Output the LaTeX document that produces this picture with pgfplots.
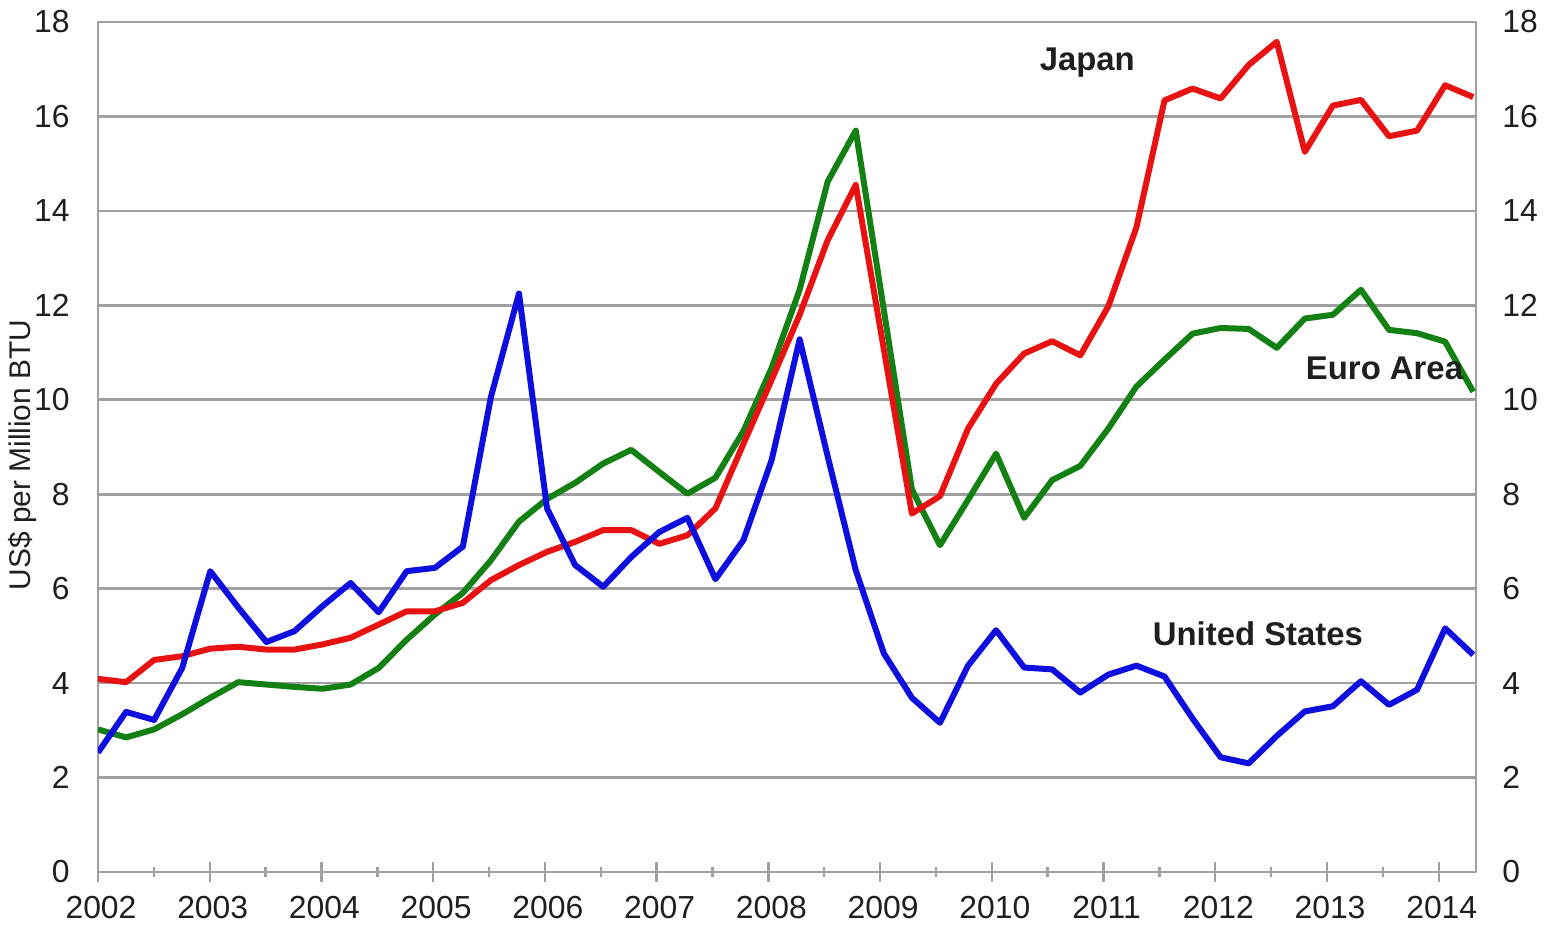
\documentclass[border=0pt]{standalone}
\usepackage{fontspec}
\setmainfont{Liberation Sans}
\usepackage{pgfplots}
\pgfplotsset{compat=1.18}
\definecolor{jpred}{RGB}{232,18,18}
\definecolor{eugreen}{RGB}{18,128,18}
\definecolor{usblue}{RGB}{14,14,222}
\definecolor{gridgray}{RGB}{160,160,160}

\pgfplotstableread{
i jp eu us
0 4.09 3.02 2.53
1 4.02 2.85 3.39
2 4.49 3.02 3.22
3 4.57 3.34 4.32
4 4.73 3.69 6.37
5 4.77 4.02 5.60
6 4.71 3.97 4.87
7 4.71 3.92 5.10
8 4.82 3.88 5.63
9 4.96 3.97 6.12
10 5.24 4.32 5.50
11 5.52 4.92 6.37
12 5.52 5.45 6.44
13 5.70 5.91 6.89
14 6.18 6.60 10.06
15 6.50 7.42 12.25
16 6.78 7.90 7.70
17 6.99 8.24 6.50
18 7.24 8.65 6.04
19 7.24 8.94 6.67
20 6.95 8.47 7.20
21 7.13 8.01 7.50
22 7.70 8.35 6.20
23 9.07 9.34 7.03
24 10.42 10.67 8.72
25 11.80 12.33 11.28
26 13.38 14.62 8.80
27 14.55 15.70 6.39
28 11.07 11.90 4.63
29 7.59 8.10 3.69
30 7.96 6.92 3.16
31 9.39 7.88 4.37
32 10.34 8.86 5.12
33 10.98 7.50 4.33
34 11.24 8.30 4.29
35 10.94 8.60 3.80
36 11.98 9.39 4.18
37 13.65 10.28 4.37
38 16.34 10.85 4.14
39 16.59 11.40 3.25
40 16.38 11.52 2.43
41 17.09 11.50 2.30
42 17.58 11.10 2.88
43 15.25 11.72 3.40
44 16.23 11.80 3.51
45 16.35 12.33 4.04
46 15.58 11.48 3.54
47 15.70 11.41 3.86
48 16.66 11.23 5.16
49 16.41 10.17 4.60
}\lngdata

\begin{document}
\begin{tikzpicture}
\pgfplotsset{
  common/.style={
    scale only axis, width=689bp, height=425bp,
    at={(0,0)}, anchor=south west,
    xmin=0, xmax=49.1, ymin=0, ymax=18,
    ytick={0,2,...,18},
    /pgf/number format/assume math mode=true,
    tick label style={font=\fontsize{16}{19}\selectfont, text=black!88},
    ytick style={draw=none},
  }
}
\begin{axis}[common,
  axis line style={gridgray, line width=1.3bp},
  ymajorgrids, grid style={gridgray, line width=1.3bp},
  xtick={0,3.981,7.962,11.943,15.924,19.905,23.886,27.867,31.848,35.829,39.81,43.791,47.772},
  xticklabels={2002,2003,2004,2005,2006,2007,2008,2009,2010,2011,2012,2013,2014},
  minor xtick={1.99,5.971,9.952,13.933,17.914,21.895,25.876,29.857,33.838,37.819,41.8,45.781},
  xtick pos=left, ytick pos=left,
  xtick style={gridgray, line width=1.2bp},
  tick align=center, major tick length=10bp, minor tick length=5bp,
  yticklabel style={anchor=east, inner xsep=0pt, xshift=-9bp},
  xticklabel style={anchor=north, inner ysep=0pt, yshift=-7bp, xshift=1.5bp},
  ylabel={US\$ per Million BTU},
  ylabel style={at={(axis description cs:-0.0544,0.4906)}, anchor=center, font=\fontsize{15}{18}\selectfont, text=black!88},
  line join=round,
]
\addplot[eugreen, line width=3bp] table[x=i, y=eu] {\lngdata};
\addplot[jpred, line width=3bp] table[x=i, y=jp] {\lngdata};
\addplot[usblue, line width=3bp] table[x=i, y=us] {\lngdata};
\node[font=\bfseries\fontsize{16.5}{20}\selectfont, text=black!88] at (axis cs:35.25,17.15) {Japan};
\node[font=\bfseries\fontsize{16.5}{20}\selectfont, text=black!88] at (axis cs:45.84,10.67) {Euro Area};
\node[font=\bfseries\fontsize{16.5}{20}\selectfont, text=black!88] at (axis cs:41.33,5.04) {United States};
\end{axis}
\begin{axis}[common,
  axis x line=none, axis y line*=right,
  axis line style={draw=none},
  yticklabel style={anchor=west, inner xsep=0pt, xshift=13bp},
]
\end{axis}
\pgfresetboundingbox
\path[use as bounding box] (-49bp,-26.5bp) rectangle (724.5bp,436bp);
\end{tikzpicture}
\end{document}
